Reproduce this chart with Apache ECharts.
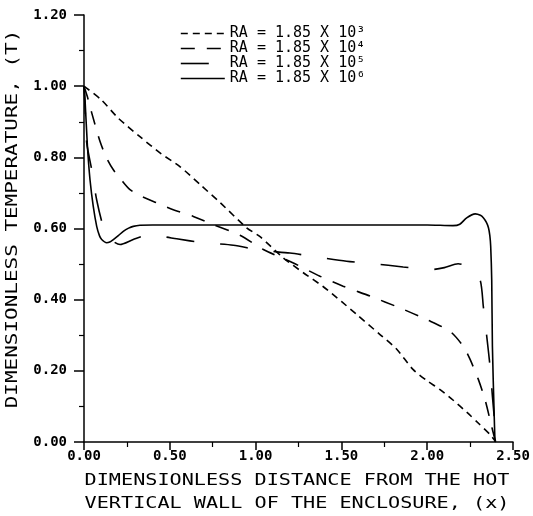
<!DOCTYPE html>
<html>
<head>
<meta charset="utf-8">
<script src="https://cdn.jsdelivr.net/npm/echarts@6/dist/echarts.min.js"></script>
<style>
html,body{margin:0;padding:0;background:#ffffff;}
#chart{width:533px;height:516px;}
</style>
</head>
<body>
<div id="chart"></div>
<script>
// ---- data ----
const seriesNames = ['RA = 1.85 X 10³', 'RA = 1.85 X 10⁴', 'RA = 1.85 X 10⁵', 'RA = 1.85 X 10⁶'];

const ra1e3 = [[0,1.0],[0.1,0.962],[0.2,0.91],[0.326,0.858],[0.45,0.81],[0.559,0.774],[0.68,0.722],[0.793,0.673],[0.948,0.602],[1.026,0.577],[1.16,0.518],[1.28,0.475],[1.393,0.437],[1.5,0.395],[1.59,0.358],[1.725,0.302],[1.82,0.262],[1.917,0.204],[2.0,0.172],[2.075,0.147],[2.15,0.118],[2.232,0.083],[2.3,0.052],[2.366,0.021],[2.4,0]];

const ra1e4 = [[0,1.0],[0.02,0.97],[0.045,0.925],[0.093,0.845],[0.13,0.80],[0.171,0.765],[0.22,0.735],[0.268,0.709],[0.336,0.69],[0.424,0.672],[0.52,0.653],[0.637,0.634],[0.754,0.611],[0.909,0.581],[1.045,0.541],[1.22,0.503],[1.375,0.466],[1.51,0.438],[1.667,0.41],[1.84,0.377],[1.997,0.344],[2.133,0.311],[2.21,0.269],[2.25,0.232],[2.298,0.176],[2.337,0.119],[2.366,0.063],[2.39,0.016],[2.4,0]];

const ra1e5 = [[0,1.0],[0.008,0.92],[0.016,0.84],[0.045,0.765],[0.074,0.68],[0.112,0.606],[0.15,0.572],[0.21,0.555],[0.287,0.569],[0.365,0.58],[0.45,0.578],[0.54,0.571],[0.695,0.56],[0.87,0.553],[1.026,0.539],[1.2,0.531],[1.356,0.52],[1.53,0.508],[1.686,0.501],[1.86,0.492],[2.016,0.484],[2.1,0.49],[2.18,0.501],[2.25,0.489],[2.308,0.456],[2.327,0.381],[2.347,0.297],[2.366,0.213],[2.38,0.129],[2.395,0.044],[2.4,0]];

const ra1e6 = [[0,1.0],[0.006,0.962],[0.02,0.831],[0.035,0.737],[0.054,0.662],[0.074,0.606],[0.09,0.58],[0.103,0.569],[0.132,0.56],[0.15,0.562],[0.171,0.569],[0.2,0.58],[0.229,0.592],[0.26,0.601],[0.287,0.606],[0.326,0.609],[0.4,0.61],[1.0,0.61],[1.5,0.61],[2.0,0.61],[2.15,0.608],[2.19,0.612],[2.23,0.63],[2.28,0.641],[2.31,0.637],[2.327,0.63],[2.345,0.617],[2.357,0.602],[2.365,0.58],[2.37,0.55],[2.376,0.456],[2.38,0.269],[2.39,0.082],[2.395,0]];

const xAxisTitle = ['DIMENSIONLESS DISTANCE FROM THE HOT', 'VERTICAL WALL OF THE ENCLOSURE, (x)'];
const yAxisTitle = 'DIMENSIONLESS TEMPERATURE, (T)';

// ---- chart ----
const MONO = '"DejaVu Sans Mono", "Liberation Mono", monospace';
const dashes = [[7,5],[14,12],[28,26],'solid'];
const allData = [ra1e3, ra1e4, ra1e5, ra1e6];

const chart = echarts.init(document.getElementById('chart'), null, {renderer:'canvas'});

const series = seriesNames.map((name, i) => ({
  name: name,
  type: 'line',
  data: allData[i],
  symbol: 'none',
  smooth: 0.25,
  smoothMonotone: 'none',
  lineStyle: {color:'#000', width:1.6, type: dashes[i]},
  itemStyle: {color:'#000'},
  emphasis: {disabled:true},
  silent: true
}));

chart.setOption({
  animation: false,
  backgroundColor: '#ffffff',
  grid: {left:84, right:20, top:15, bottom:74, containLabel:false},
  xAxis: {
    type:'value', min:0, max:2.5, interval:0.5,
    axisLine:{show:true, onZero:false, lineStyle:{color:'#000', width:1.5}},
    axisTick:{show:true, inside:false, length:8, lineStyle:{color:'#000', width:1.5}},
    minorTick:{show:true, splitNumber:2, length:5, lineStyle:{color:'#000', width:1.2}},
    splitLine:{show:false},
    axisLabel:{color:'#000', fontFamily:MONO, fontSize:14, fontWeight:'bold', margin:7,
      formatter: v => v.toFixed(2)}
  },
  yAxis: {
    type:'value', min:0, max:1.2, interval:0.2,
    axisLine:{show:true, onZero:false, lineStyle:{color:'#000', width:1.5}},
    axisTick:{show:true, inside:false, length:10, lineStyle:{color:'#000', width:1.5}},
    minorTick:{show:true, splitNumber:2, length:5, lineStyle:{color:'#000', width:1.2}},
    splitLine:{show:false},
    axisLabel:{color:'#000', fontFamily:MONO, fontSize:14, fontWeight:'bold', margin:17,
      formatter: v => v.toFixed(2)}
  },
  legend: {
    show:true, orient:'vertical', left:180, top:26, padding:0,
    itemWidth:44, itemHeight:10, itemGap:0,
    selectedMode:false,
    data: seriesNames,
    itemStyle:{color:'rgba(0,0,0,0)', borderWidth:0, opacity:0},
    lineStyle:{width:1.6},
    textStyle:{color:'#000', fontFamily:MONO, fontSize:15, lineHeight:15}
  },
  graphic: [
    {type:'text', x:297, y:481, scaleX:1.26, silent:true,
     style:{text:xAxisTitle[0], font:'16px ' + MONO, fill:'#000', align:'center', verticalAlign:'middle'}},
    {type:'text', x:297, y:504, scaleX:1.26, silent:true,
     style:{text:xAxisTitle[1], font:'16px ' + MONO, fill:'#000', align:'center', verticalAlign:'middle'}},
    {type:'text', x:13, y:219, rotation:Math.PI/2, scaleX:1.31, silent:true,
     style:{text:yAxisTitle, font:'16px ' + MONO, fill:'#000', align:'center', verticalAlign:'middle'}}
  ],
  series: series
});
</script>
</body>
</html>
